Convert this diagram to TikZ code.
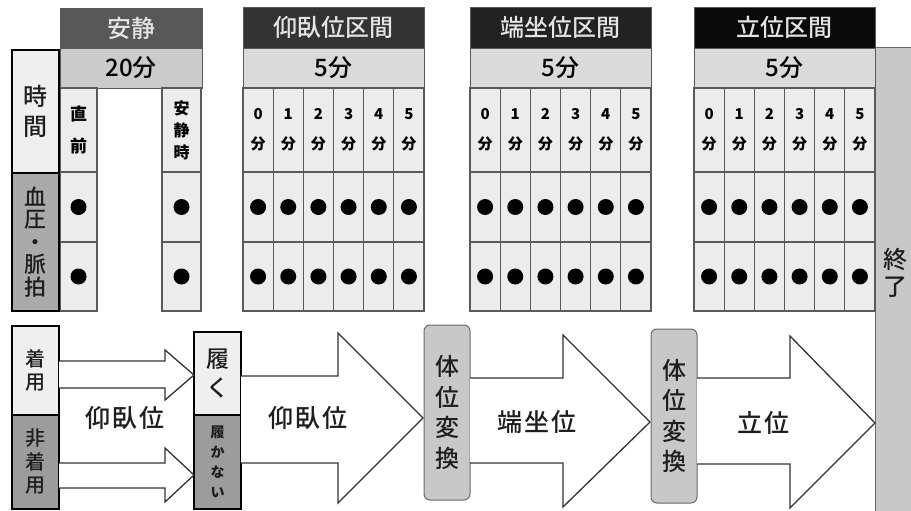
\documentclass[tikz,border=0pt]{standalone}
\usepackage{fontspec}
\setmainfont{Noto Sans CJK JP}
\newfontfamily\jpm{Noto Sans CJK JP Medium}
\newfontfamily\jpw[LetterSpace=8]{Noto Sans CJK JP Medium}
\definecolor{cellc}{HTML}{ECECEC}
\definecolor{subc}{HTML}{DADADA}
\definecolor{subz}{HTML}{CBCBCB}
\definecolor{cline}{HTML}{5A5A5A}
\definecolor{htext}{HTML}{E4E4E4}
\definecolor{hz}{HTML}{585858}
\definecolor{ha}{HTML}{333333}
\definecolor{hb}{HTML}{222222}
\definecolor{hc}{HTML}{0A0A0A}
\definecolor{lightbox}{HTML}{EFEFEF}
\definecolor{midbox}{HTML}{AAAAAA}
\definecolor{darkbox}{HTML}{9C9C9C}
\definecolor{chgc}{HTML}{C8C8C8}
\definecolor{gline}{HTML}{6A6A6A}
\definecolor{aline}{HTML}{333333}
\definecolor{txt}{HTML}{1E1E1E}
\tikzset{
  box/.style={anchor=north west, inner sep=0pt, outer sep=0pt, align=center},
  hdr/.style={box, draw=cline, line width=0.8pt, text=htext, font=\jpm\fontsize{24}{26}\selectfont},
  subh/.style={box, draw=cline, line width=0.8pt, fill=subc, text=black, font=\jpm\fontsize{24}{26}\selectfont},
  cell/.style={box, draw=cline, line width=1.2pt, fill=cellc},
  lab/.style={font=\fontsize{15}{30}\selectfont\bfseries, text=black},
  dotn/.style={circle, fill=black, minimum size=16pt, inner sep=0pt},
  thickbox/.style={box, draw=black, line width=2.4pt, text=txt},
  blk/.style={draw=aline, line width=1.3pt, fill=white, line join=miter},
  chg/.style={box, draw=gline, fill=chgc, line width=1pt, rounded corners=6pt, text=txt, font=\jpm\fontsize{24}{30.5}\selectfont},
  big/.style={text=txt, font=\jpw\fontsize{25}{28}\selectfont},
}
\begin{document}
\begin{tikzpicture}[x=1pt,y=-1pt]
\useasboundingbox (0,0) rectangle (911,511);
% finish bar
\node[box, draw=gline, line width=1pt, fill=chgc, minimum width=40, minimum height=470] (end) at (875,48) {};
\node[text=txt, font=\jpm\fontsize{24}{27}\selectfont, align=center] (endt) at (895,273) {終\\了};
% rest section
\node[hdr, fill=hz, minimum width=142, minimum height=40] (zh) at (60,8) {安静};
\node[subh, fill=subz, minimum width=142, minimum height=40] (zs) at (60,48) {20分};
\node[cell, minimum width=37, minimum height=84, font=\fontsize{17}{32}\selectfont\bfseries] (zl0) at (60,88) {直\\前};
\node[cell, minimum width=37, minimum height=70] (zr0) at (60,172) {};
\node[cell, minimum width=37, minimum height=69] (zq0) at (60,242) {};
\node[cell, minimum width=39, minimum height=84, font=\fontsize{16}{22}\selectfont\bfseries] (zl1) at (162,88) {安\\静\\時};
\node[cell, minimum width=39, minimum height=70] (zr1) at (162,172) {};
\node[cell, minimum width=39, minimum height=69] (zq1) at (162,242) {};
\foreach \j in {0,1} {
  \node[dotn] (zd\j) at (zr\j.center) {};
  \node[dotn] (ze\j) at (zq\j.center) {};
}
% posture sections
\foreach \x/\nm/\col/\id in {243/仰臥位区間/ha/a, 470/端坐位区間/hb/b, 694/立位区間/hc/c} {
  \node[hdr, fill=\col, minimum width=181, minimum height=41] (\id h) at (\x,7) {\nm};
  \node[subh, minimum width=181, minimum height=40] (\id s) at (\x,48) {5分};
  \foreach \j in {0,...,5} {
    \pgfmathsetmacro\cx{\x+\j*181/6}
    \node[cell, lab, minimum width=30.17, minimum height=84] (\id l\j) at (\cx,88) {\j\\分};
    \node[cell, minimum width=30.17, minimum height=70] (\id r\j) at (\cx,172) {};
    \node[cell, minimum width=30.17, minimum height=69] (\id q\j) at (\cx,242) {};
    \node[dotn] (\id d\j) at (\id r\j.center) {};
    \node[dotn] (\id e\j) at (\id q\j.center) {};
  }
}
% row labels
\node[thickbox, fill=lightbox, minimum width=47, minimum height=123, font=\jpm\fontsize{24}{30}\selectfont] (time) at (12,50) {時\\間};
\node[thickbox, fill=midbox, minimum width=47, minimum height=138, font=\jpm\fontsize{22}{22.5}\selectfont] (bp) at (12,173) {血\\圧\\・\\脈\\拍};
% bottom part
\node[thickbox, fill=lightbox, minimum width=47, minimum height=89, font=\jpm\fontsize{20}{23}\selectfont] (wear) at (12,326) {着\\用};
\node[thickbox, fill=darkbox, minimum width=47, minimum height=94, font=\jpm\fontsize{20}{23.5}\selectfont] (nowear) at (12,415) {非\\着\\用};
\node[thickbox, fill=lightbox, minimum width=47, minimum height=83, font=\jpm\fontsize{23}{29}\selectfont] (put) at (194,332) {履\\く};
\node[thickbox, fill=darkbox, minimum width=47, minimum height=94, font=\fontsize{14}{20}\selectfont\bfseries] (noput) at (194,415) {履\\か\\な\\い};
% small arrows
\draw[blk] (59,361) -- (165,361) -- (165,350) -- (194,375) -- (165,400) -- (165,388) -- (59,388);
\draw[blk] (59,463) -- (165,463) -- (165,448) -- (194,475) -- (165,502) -- (165,488) -- (59,488);
\node[big] (sup0) at (125,418) {仰臥位};
% big arrows
\draw[blk] (241,376) -- (338,376) -- (338,333) -- (423,418) -- (338,503) -- (338,463) -- (241,463);
\node[big] (sup1) at (308,418) {仰臥位};
\node[chg, minimum width=46, minimum height=175] (chg1) at (424,325) {体\\位\\変\\換};
\draw[blk] (470,378) -- (563,378) -- (563,335) -- (650,422) -- (563,507) -- (563,463) -- (470,463);
\node[big] (sit) at (537,422) {端坐位};
\node[chg, minimum width=46, minimum height=174] (chg2) at (651,329) {体\\位\\変\\換};
\draw[blk] (697,378) -- (790,378) -- (790,336) -- (875,423) -- (790,508) -- (790,464) -- (697,464);
\node[big] (stand) at (763,423) {立位};
\end{tikzpicture}
\end{document}
